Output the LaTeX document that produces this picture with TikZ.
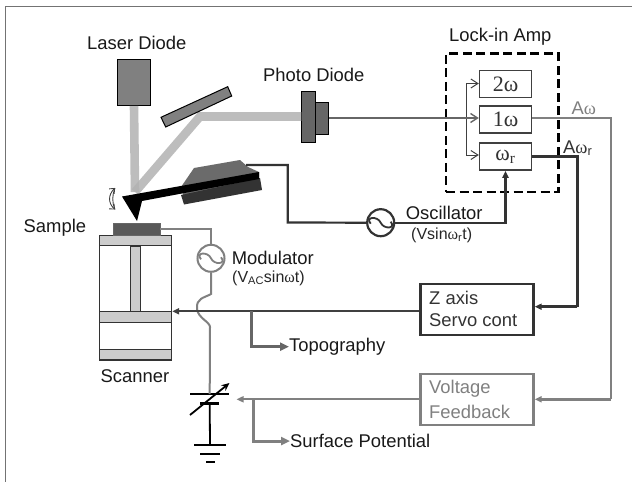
\documentclass[tikz,border=0pt]{standalone}
\usepackage{fontspec}
\setmainfont{Liberation Sans}
\newfontfamily\serifw{Liberation Serif}
\usetikzlibrary{arrows.meta,calc}
\newcommand{\om}{{\serifw ω}}
\tikzset{
  lbl/.style={anchor=west,inner sep=0pt,font=\fontsize{18.4}{20}\selectfont,text=black!90},
  sublbl/.style={anchor=west,inner sep=0pt,font=\fontsize{16}{18}\selectfont,text=black!85},
  fbox/.style={draw=black!75,line width=1.4pt,minimum width=52pt,minimum height=27pt,inner sep=0pt,font=\serifw\fontsize{22}{24}\selectfont,text=black!80},
  ctrl/.style={draw=black!80,line width=2.4pt,minimum width=113pt,minimum height=51pt,inner sep=0pt},
  fdbk/.style={draw=black!50,line width=2.4pt,minimum width=113pt,minimum height=51pt,inner sep=0pt},
  ctext/.style={anchor=west,inner sep=0pt,font=\fontsize{18.4}{22}\selectfont},
  gbox/.style={draw=black,line width=1pt,fill=black!50,inner sep=0pt},
  beam/.style={line width=8.6pt,draw=black!30,opacity=.85},
  plate/.style={draw=black!80,line width=1pt,fill=black!20,minimum width=72pt,inner sep=0pt},
  src/.style={circle,fill=white,inner sep=0pt,minimum size=27pt},
  tipS/.style={-{Triangle[length=7pt,width=6pt]}},
  tipB/.style={-{Triangle[length=9pt,width=8pt]}},
  openhead/.style={-{Straight Barb[length=7pt,width=9pt]}},
}
\begin{document}
\begin{tikzpicture}[x=1pt,y=-1pt,line join=miter]
\useasboundingbox (0,0) rectangle (632,482);
\fill[white] (0,0) rectangle (632,482);
\draw[black!55,line width=1.8pt] (632,6.5) -- (5.5,6.5) -- (5.5,482);

% nodes: optics
\node[gbox,minimum width=33.4pt,minimum height=46pt] (ld) at (134,82.3) {};
\coordinate (hit) at (135,192);
\coordinate (bend) at (200,116.5);
\node[gbox,fill=black!60,minimum width=13.3pt,minimum height=50.6pt] (pd1) at (308.4,117) {};
\node[gbox,fill=black!60,minimum width=13.3pt,minimum height=32.7pt] (pd2) at (321.7,118.6) {};
% beams
\draw[beam] (ld.south) -- (hit);
\draw[beam] (hit) -- (bend) -- (pd1.west |- bend);
\fill[black!50,draw=black,line width=1pt] (161,117.3) -- (227.7,86.7) -- (231.7,96) -- (165.7,127) -- cycle;

% labels
\node[lbl] (tld) at (87,42.7) {Laser Diode};
\node[lbl] (tpd) at (263,75) {Photo Diode};
\node[lbl] (tsa) at (23.5,228) {Sample};
\node[lbl] (tli) at (449,36.7) {Lock-in Amp};
\node[lbl] (tsc) at (100.5,376) {Scanner};

% cantilever
\fill[black!58] (181,187) -- (194,168) -- (240,160) -- (248,167) -- (259,172) -- (259,180) -- (183,195) -- cycle;
\fill[black!80] (181,195) -- (260,178) -- (262,190) -- (184,204.5) -- cycle;
\fill[black] (122,196.5) -- (259,172) -- (259,179) -- (142,201) -- (137,221) -- cycle;
\coordinate (hold) at (246,165);

% swing arrows
\draw[black!75,line width=.9pt,{Straight Barb[length=4pt,width=7pt]}-{Straight Barb[length=4pt,width=7pt]}] (115,188) .. controls (108,195) and (108,203) .. (115,209.5);
\draw[black!75,line width=.9pt] (115,188) .. controls (112,195) and (112,203) .. (115,209.5);

% scanner
\node[draw=black!80,line width=1pt,fill=white,minimum width=72.4pt,minimum height=124.7pt,inner sep=0pt] (scan) at (135.5,297.7) {};
\node[plate,minimum height=10.7pt] (p1) at (135.5,240.6) {};
\node[plate,minimum height=11pt] (p2) at (135.5,316.5) {};
\node[plate,minimum height=10.7pt] (p3) at (135.5,354.6) {};
\node[draw=black!80,line width=1pt,fill=black!20,minimum width=9.3pt,minimum height=65pt,inner sep=0pt] (col) at (135.4,278.5) {};
\node[draw=black!60,line width=.5pt,fill=black!65,minimum width=46.7pt,minimum height=12.3pt,inner sep=0pt] (samp) at (136.7,228.9) {};

% modulator and oscillator
\node[src,draw=black!50,line width=2pt] (mod) at (211,258.3) {};
\draw[black!50,line width=1.8pt] (mod.center) +(-10,1) .. controls +(-6,-7) and +(-3,-7) .. +(0,0) .. controls +(3,7) and +(6,7) .. +(10,-1);
\node[src,draw=black!80,line width=2.2pt] (osc) at (380.7,222.7) {};
\draw[black!80,line width=1.8pt] (osc.center) +(-10,1) .. controls +(-6,-7) and +(-3,-7) .. +(0,0) .. controls +(3,7) and +(6,7) .. +(10,-1);
\node[lbl] (tmod) at (231.7,258) {Modulator};
\node[sublbl] (tmodv) at (232,278) {(V\textsubscript{\fontsize{11}{11}\selectfont AC}sin\om t)};
\node[lbl] (tosc) at (405.7,213) {Oscillator};
\node[sublbl] (toscv) at (411,235) {(Vsin\om\textsubscript{r}t)};

% lock-in
\node[draw=black,line width=2.4pt,dash pattern=on 9pt off 4.5pt,minimum width=112.3pt,minimum height=138.4pt,inner sep=0pt] (lock) at (502.2,122.5) {};
\node[fbox] (b2) at (505.5,84) {2\om};
\node[fbox] (b1) at (505.5,119.3) {1\om};
\node[fbox] (br) at (505.5,156.6) {\om\textsubscript{r}};
\coordinate (split) at (466,118);
\draw[black!60,line width=1.4pt] (pd2.east |- split) -- (split);
\draw[black!75,line width=1pt] (466,83.5) -- (466,155);
\draw[black!60,line width=1.4pt,openhead] (split) -- (b1.west |- split);
\draw[black!75,line width=1pt,openhead] (466,83.5) -- (b2.west |- 0,83.5);
\draw[black!75,line width=1pt,openhead] (466,155) -- (br.west |- 0,155);

% controllers
\node[ctrl] (servo) at (477,309.5) {};
\node[ctext,text=black!80] (tz) at (429,298) {Z axis};
\node[ctext,text=black!80] (tsv) at (429,320.5) {Servo cont};
\node[fdbk] (vf) at (477,399.3) {};
\node[ctext,text=black!50] (tv) at (429,389) {Voltage};
\node[ctext,text=black!50] (tf) at (429,411.5) {Feedback};

% outputs
\node[lbl,text=black!50] (taw) at (571.5,108) {A\om};
\node[lbl,text=black!80] (tawr) at (563,148) {A\om\textsubscript{r}};
\node[lbl] (ttopo) at (289,346.7) {Topography};
\node[lbl] (tsurf) at (290,441) {Surface Potential};

% capacitor and ground
\node[inner sep=0pt,minimum width=39pt,minimum height=2pt,fill=black] (capt) at (209.7,394) {};
\node[inner sep=0pt,minimum width=19pt,minimum height=3pt,fill=black] (capb) at (209.7,403.3) {};
\node[inner sep=0pt,minimum width=32pt,minimum height=2.4pt,fill=black] (g1) at (210,445) {};
\node[inner sep=0pt,minimum width=20pt,minimum height=2.4pt,fill=black] (g2) at (210,454) {};
\node[inner sep=0pt,minimum width=9pt,minimum height=2.4pt,fill=black] (g3) at (210,462) {};
\draw[black,line width=1.8pt] (capb.center) -- (g1.center);
\draw[black,line width=1.8pt,-{Stealth[length=8pt,width=7pt]}] (190,415) -- (229.5,383);

% wires
\draw[black!50,line width=2pt] (samp.east |- 0,229.3) -- (mod.north |- 0,229.3) -- (mod.north);
\draw[black!50,line width=2pt] (mod.south) -- (211,294) .. controls (204,298) and (196,298) .. (197,309) .. controls (198,318) and (210,322) .. (210,327) -- (capt.center);
\draw[black!80,line width=2.2pt] (hold) -- (287.7,165) -- (287.7,222.5) -- (osc.west);
\draw[black!80,line width=2.4pt,tipS] (osc.east) -- (br.south |- osc.east) -- (br.south);
\draw[black!50,line width=2.4pt] (b1.east |- 0,117.7) -- (611,117.7) -- (611,399.3);
\draw[black!50,line width=2.4pt,tipS] (611,399.3) -- (vf.east |- 0,399.3);
\draw[black!80,line width=2.6pt] (br.east |- 0,156.7) -- (577.3,156.7) -- (577.3,306.7);
\draw[black!80,line width=2.6pt,tipS] (577.3,306.7) -- (servo.east |- 0,306.7);
\draw[black!75,line width=2pt,tipS] (servo.west |- 0,311.3) -- (scan.east |- 0,311.3);
\coordinate (atop) at (251.7,311.3);
\draw[black!60,line width=3pt,tipB] (atop) |- (ttopo.west);
\coordinate (acap) at (236.5,399.3);
\draw[black!50,line width=2pt,tipS] (vf.west) -- (acap);
\coordinate (asrf) at (253.3,399.3);
\draw[black!50,line width=3pt,tipB] (asrf) |- (tsurf.west);
\end{tikzpicture}
\end{document}
